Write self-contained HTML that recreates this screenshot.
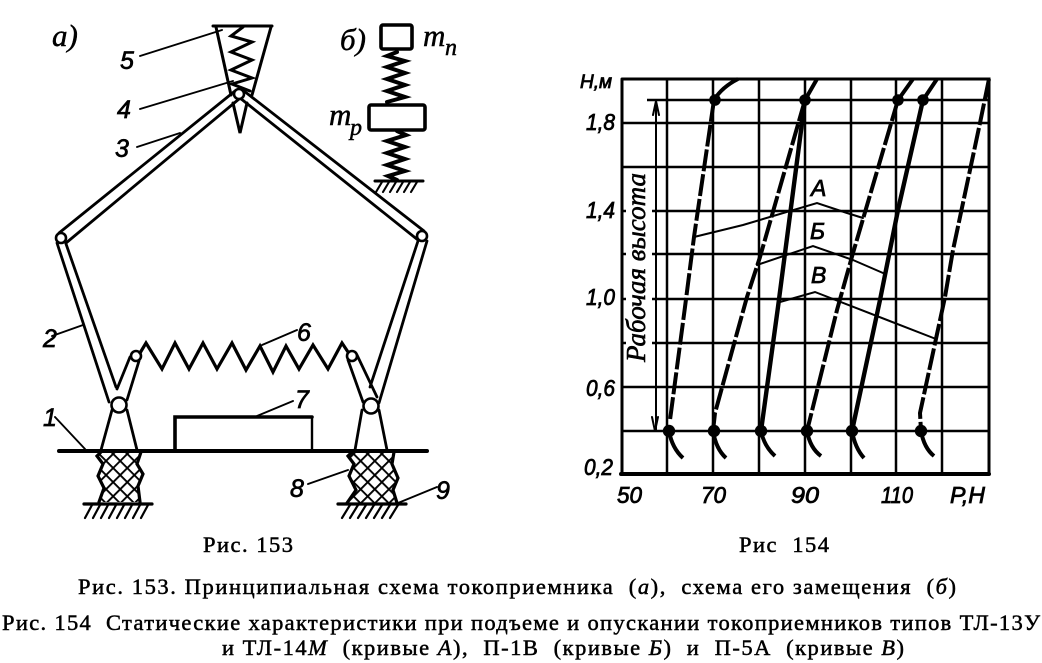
<!DOCTYPE html>
<html lang="ru">
<head>
<meta charset="utf-8">
<title>Рис. 153 и 154</title>
<style>
html,body{margin:0;padding:0;background:#fff;width:1042px;height:663px;overflow:hidden}
svg{display:block}
.l{fill:none;stroke:#000;stroke-linejoin:miter;stroke-linecap:round}
.n{font-family:"Liberation Sans",sans-serif;font-style:italic;font-size:25px;fill:#000;stroke:#000;stroke-width:.7}
.s{font-family:"Liberation Serif",serif;font-style:italic;font-size:31px;fill:#000;stroke:#000;stroke-width:.5}
.a{font-family:"Liberation Sans",sans-serif;font-style:italic;font-size:23px;fill:#000;stroke:#000;stroke-width:.8}
.c{font-family:"Liberation Serif",serif;font-size:22.5px;fill:#000;stroke:#000;stroke-width:.5}
.c tspan.i{font-style:italic}
</style>
</head>
<body>
<svg width="1042" height="663" viewBox="0 0 1042 663" xmlns="http://www.w3.org/2000/svg">
<defs>
<pattern id="m" width="10" height="10" patternUnits="userSpaceOnUse" patternTransform="rotate(45 0 0)">
<path d="M0 0H10M0 0V10" stroke="#000" stroke-width="3.8" fill="none"/>
</pattern>
<clipPath id="c1"><path d="M101 452H141L137 464L143 474L138 486L140 502H99L104 488L98 476L103 464L97 456Z"/></clipPath>
<clipPath id="c2"><path d="M352 452H394L392 464L398 478L393 490L397 503H347L356 490L349 476L354 464L348 456Z"/></clipPath>
</defs>

<!-- Figure a: arms -->
<g class="l" stroke-width="2.8">
<path d="M235 91L59 233M239 99L66 243"/>
<path d="M244 91L424 231M240 98L418 240"/>
<path d="M57 243L109 402M65 241L116 387"/>
<path d="M418 241L370 387M427 241L379 403"/>
<path d="M130 357L117 389M139 361L127 400"/>
<path d="M348 360L363 402M357 355L377 397"/>
<path d="M112 410L101 450M127 410L137 450"/>
<path d="M362 410L355 450M379 410L387 450"/>
</g>
<!-- Shoe -->
<g class="l" stroke-width="3">
<path d="M213 26H272M216 27L231 95M271 27L252 95"/>
<path d="M233 103L240 133L247 103"/>
<path d="M243 27L231 36L252 42L231 52L252 60L231 70L252 78L232 84L250 91" stroke-width="3"/>
</g>
<!-- joints -->
<g fill="#fff" stroke="#000" stroke-width="2.6">
<circle cx="239" cy="94" r="5"/>
<circle cx="61" cy="238" r="5"/>
<circle cx="422" cy="236" r="5"/>
<circle cx="119" cy="405" r="7.5"/>
<circle cx="371" cy="406" r="7.5"/>
<circle cx="136" cy="356" r="5"/>
<circle cx="352" cy="356" r="5"/>
</g>
<!-- spring 6 -->
<path class="l" stroke-width="3.2" d="M140 353L146 343L162 369L175 343L189 369L203 343L217 369L232 343L246 370L260 346L273 372L286 346L299 369L313 345L328 369L342 343L348 352"/>
<!-- base, box -->
<path class="l" stroke-width="4" d="M59 451H427"/>
<path class="l" stroke-width="2.4" d="M312 417V450"/>
<path class="l" stroke-width="3.6" d="M175 450V417H312"/>
<!-- mesh -->
<rect x="90" y="448" width="60" height="58" fill="url(#m)" clip-path="url(#c1)"/>
<rect x="340" y="448" width="64" height="58" fill="url(#m)" clip-path="url(#c2)"/>
<path class="l" stroke-width="3.2" d="M101 452L97 456L103 464L98 476L104 488L99 502M141 452L137 464L143 474L138 486L140 502"/>
<path class="l" stroke-width="3.2" d="M352 452L348 456L354 464L349 476L356 490L347 503M394 452L392 464L398 478L393 490L397 503"/>
<!-- ground -->
<path class="l" stroke-width="3.2" d="M84 504H152M338 504H406"/>
<path class="l" stroke-width="2.2" d="M92 505L85 518M100 505L93 518M108 505L101 518M116 505L109 518M124 505L117 518M132 505L125 518M140 505L133 518M148 505L141 518M350 505L342 518M358 505L350 518M366 505L358 518M374 505L366 518M382 505L374 518M390 505L382 518M398 505L390 518"/>
<!-- leaders -->
<g class="l" stroke-width="1.9">
<path d="M140 56L222 30M140 109L233 81M137 147L180 133"/>
<path d="M55 417L85 449M52 336L83 325M297 330L262 345M257 416L293 401M308 484L348 470M437 487L398 503"/>
</g>
<!-- Labels a -->
<text class="s" x="52" y="46">а)</text>
<text class="s" x="340" y="50">б)</text>
<text class="n" x="120" y="69">5</text>
<text class="n" x="117" y="118">4</text>
<text class="n" x="115" y="157">3</text>
<text class="n" x="43" y="347">2</text>
<text class="n" x="43" y="426">1</text>
<text class="n" x="297" y="341">6</text>
<text class="n" x="295" y="408">7</text>
<text class="n" x="290" y="497">8</text>
<text class="n" x="436" y="499">9</text>

<!-- Figure b -->
<g class="l" stroke-width="3.6">
<rect x="381" y="25" width="31" height="24" rx="2"/>
<rect x="369" y="105" width="56" height="25" rx="2"/>
</g>
<g class="l" stroke-width="4">
<path d="M397 52L387 56L405 61L387 67L405 73L387 79L405 85L387 91L405 97L387 102"/>
<path d="M397 131L406 135L387 141L405 147L387 153L405 159L387 165L405 171L388 176L397 180"/>
</g>
<path class="l" stroke-width="3" d="M375 181H423"/>
<path class="l" stroke-width="2.1" d="M382 182L376 192M389 182L383 192M396 182L390 192M403 182L397 192M410 182L404 192M417 182L411 192"/>
<text class="s" x="423" y="46">m</text><text class="s" x="445" y="55" style="font-size:24px">п</text>
<text class="s" x="329" y="125">m</text><text class="s" x="350" y="135" style="font-size:24px">р</text>

<!-- Chart grid -->
<g class="l" stroke-width="2.5" style="stroke-linecap:butt">
<path d="M647 100H989M622 123H989M622 167H989M622 211H989M622 254H989M622 299H989M622 343H989M622 387H989M622 431H989"/>
<path d="M667 79V474M713 79V474M759 79V474M805 79V474M851 79V474M896 79V474M942 79V474"/>
</g>
<rect x="626" y="170" width="26" height="196" fill="#fff"/>
<path class="l" stroke-width="3" d="M622 79V474M622 79H989V474"/>
<path class="l" stroke-width="4" d="M621 474H989"/>
<!-- Arrow -->
<path class="l" stroke-width="2" d="M656 101V431"/>
<path class="l" stroke-width="2" d="M653 115L656 101L659 115M652 417L655 431L658 417"/>
<!-- Thin curves -->
<g class="l" stroke-width="2">
<path d="M694 237L743 225L817 203L847 213L863 218"/>
<path d="M757 265L813 246L853 260L883 273"/>
<path d="M780 302L815 292L936 339"/>
</g>
<!-- Curves -->
<g class="l" style="stroke-linecap:butt">
<path stroke-width="4" stroke-dasharray="22 3" d="M714 100L694 237L685 307L670 420"/>
<path stroke-width="4" d="M714 100Q722 87 738 79"/>
<path stroke-width="4" d="M669 431Q672 448 683 458"/>
<path stroke-width="4" stroke-dasharray="22 3" d="M805 100L760 257L747 297L737 333L715 413L713 431"/>
<path stroke-width="4" d="M805 100L817 79"/>
<path stroke-width="4" d="M713 431Q716 449 726 458"/>
<path stroke-width="4.4" d="M805 100L778 307L761 431"/>
<path stroke-width="4" d="M761 431Q764 446 775 456"/>
<path stroke-width="4" stroke-dasharray="22 3" d="M898 100L853 253L837 310L807 431"/>
<path stroke-width="4" d="M898 100L913 79"/>
<path stroke-width="4" d="M807 431Q810 448 821 456"/>
<path stroke-width="4.4" d="M923 100L898 210L880 300L852 431"/>
<path stroke-width="4" d="M923 100L937 79"/>
<path stroke-width="4" d="M852 431Q855 448 864 458"/>
<path stroke-width="4" stroke-dasharray="22 3" d="M989 79L980 123L953 250L945 297L920 413L921 431"/>
<path stroke-width="4" d="M921 431Q924 448 934 456"/>
</g>
<!-- Dots -->
<g fill="#000">
<circle cx="715" cy="100" r="5.8"/><circle cx="805" cy="100" r="5.8"/><circle cx="898" cy="100" r="5.8"/><circle cx="923" cy="100" r="5.8"/>
<circle cx="669" cy="431" r="6.2"/><circle cx="714" cy="431" r="6.2"/><circle cx="761" cy="431" r="6.2"/><circle cx="807" cy="431" r="6.2"/><circle cx="852" cy="431" r="6.2"/><circle cx="921" cy="431" r="6.2"/>
</g>
<!-- Chart labels -->
<text class="a" x="580" y="88" textLength="32" lengthAdjust="spacingAndGlyphs" style="font-size:19px">Н,м</text>
<text class="a" x="586" y="130" textLength="29" lengthAdjust="spacingAndGlyphs">1,8</text>
<text class="a" x="586" y="218" textLength="29" lengthAdjust="spacingAndGlyphs">1,4</text>
<text class="a" x="586" y="305" textLength="29" lengthAdjust="spacingAndGlyphs">1,0</text>
<text class="a" x="586" y="396" textLength="29" lengthAdjust="spacingAndGlyphs">0,6</text>
<text class="a" x="584" y="475" textLength="29" lengthAdjust="spacingAndGlyphs">0,2</text>
<text class="a" x="617" y="503" textLength="25" lengthAdjust="spacingAndGlyphs">50</text>
<text class="a" x="701" y="503" textLength="25" lengthAdjust="spacingAndGlyphs">70</text>
<text class="a" x="791" y="503" textLength="28" lengthAdjust="spacingAndGlyphs">90</text>
<text class="a" x="881" y="503" textLength="32" lengthAdjust="spacingAndGlyphs">110</text>
<text class="a" x="950" y="503" textLength="35" lengthAdjust="spacingAndGlyphs">Р,Н</text>
<text class="a" x="811" y="196">А</text>
<text class="a" x="810" y="239">Б</text>
<text class="a" x="811" y="283">В</text>
<text class="s" transform="translate(645 362) rotate(-90)" textLength="189" lengthAdjust="spacingAndGlyphs" style="font-size:27px;stroke-width:.6">Рабочая высота</text>

<!-- Captions -->
<text class="c" x="203" y="552" textLength="90">Рис. 153</text>
<text class="c" x="739" y="552" textLength="90" xml:space="preserve">Рис  154</text>
<text class="c" x="78" y="594" textLength="878" xml:space="preserve">Рис. 153. Принципиальная схема токоприемника  (<tspan class="i">а</tspan>),  схема его замещения  (<tspan class="i">б</tspan>)</text>
<text class="c" x="2" y="630" textLength="1038" xml:space="preserve">Рис. 154  Статические характеристики при подъеме и опускании токоприемников типов ТЛ-13У</text>
<text class="c" x="222" y="655" textLength="682" xml:space="preserve">и ТЛ-14<tspan class="i">М</tspan>  (кривые <tspan class="i">А</tspan>),  П-1В  (кривые <tspan class="i">Б</tspan>)  и  П-5А  (кривые <tspan class="i">В</tspan>)</text>
</svg>
</body>
</html>
